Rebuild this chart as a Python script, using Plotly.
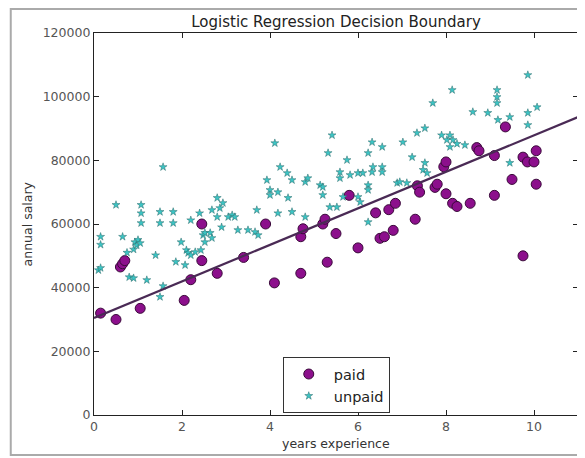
import plotly.graph_objects as go

# ---- data ----
paid_x = [0.15, 0.5, 0.6, 0.65, 0.7, 1.05, 2.05, 2.2, 2.45, 2.45, 2.8, 3.4, 3.9, 4.1,
          4.7, 4.7, 4.75, 5.2, 5.25, 5.3, 5.5, 5.8, 6.0, 6.4, 6.5, 6.6, 6.7, 6.8, 6.85,
          7.3, 7.35, 7.4, 7.75, 7.8, 7.95, 8.0, 8.0, 8.15, 8.25, 8.55, 8.7, 8.75, 9.1,
          9.1, 9.35, 9.5, 9.75, 9.75, 9.85, 10.0, 10.05, 10.05]
paid_y = [32000, 30000, 46500, 47500, 48500, 33500, 36000, 42500, 48500, 60000, 44500,
          49500, 60000, 41500, 44500, 56000, 58500, 60000, 61500, 48000, 57000, 69000,
          52500, 63500, 55500, 56000, 64500, 58000, 66500, 61500, 72000, 70000, 71500,
          72500, 78000, 79500, 69500, 66500, 65500, 66500, 84000, 83000, 81500, 69000,
          90500, 74000, 81000, 50000, 79500, 79500, 83000, 72500]

unpaid_x = [0.1, 0.15, 0.15, 0.15, 0.5, 0.65, 0.75, 0.8, 0.9, 0.9, 0.93, 0.97, 1.0, 1.05,
            1.07, 1.07, 1.07, 1.2, 1.4, 1.5, 1.5, 1.5, 1.57, 1.57, 1.8, 1.8, 1.86, 1.98,
            2.07, 2.1, 2.14, 2.2, 2.2, 2.3, 2.4, 2.43, 2.48, 2.52, 2.52,
            2.64, 2.68, 2.68, 2.8, 2.86, 2.93, 2.8, 2.9, 3.05, 3.14, 3.2, 3.27, 3.5, 3.66,
            3.73, 3.7, 3.93, 4.0, 4.0, 4.11, 4.18, 4.18, 4.23, 4.39, 4.41, 4.5, 4.5, 4.8,
            4.86, 4.8,
            5.14, 5.2, 5.2, 5.32, 5.36, 5.41, 5.52, 5.59, 5.59, 5.66, 5.75, 5.82, 6.0, 6.0,
            6.05, 6.11, 6.23, 6.23, 6.23, 6.23, 6.32, 6.32, 6.34, 6.55, 6.55, 6.55, 6.89,
            6.95, 7.02, 7.11, 7.23, 7.34, 7.48, 7.52, 7.52, 7.57, 7.7,
            7.9, 8.02, 8.09, 8.09, 8.16, 8.25, 8.43, 8.14, 8.61, 8.95, 9.16, 9.16, 9.16,
            9.18, 9.45, 9.45, 9.86, 9.86, 9.86, 10.07]
unpaid_y = [45500, 46200, 56000, 53500, 66000, 56000, 51000, 43300, 43000, 52000, 54300,
            53300, 55000, 54000, 66000, 63400, 60300, 42400, 50200, 63800, 60300, 37100,
            40500, 77900, 63800, 60300, 48100, 54300, 47100, 51800, 50900, 50200, 61200,
            51200, 63400, 51800, 56500, 54300, 57200,
            57200, 55600, 64400, 68200, 65000, 66600, 62200, 59000, 62200, 62800, 62200,
            58100, 58100, 57500, 56500, 64400, 73800, 70700, 69100, 85400, 70000, 63400,
            77900, 76000, 68200, 73800, 63800, 73200, 74400, 62200,
            72200, 71600, 69100, 82300, 65300, 87900, 65300, 76300, 74400, 68500, 80100,
            75400, 76000, 68500, 66900, 76000, 82300, 72200, 70700, 60600, 85700, 76300,
            77900, 84200, 77900, 76300, 72900, 73200, 85700, 72900, 81000, 88600, 77000,
            79200, 90100, 76000, 98000,
            87900, 86400, 87900, 84200, 86400, 85200, 84800, 102100, 95200, 94900, 102100,
            99900, 98000, 92700, 93600, 79200, 106800, 94900, 91100, 96700]

boundary_x = [0, 11]
boundary_y = [30500, 93600]

x_ticks = [0, 2, 4, 6, 8, 10]
y_ticks = [0, 20000, 40000, 60000, 80000, 100000, 120000]

FONT = "DejaVu Sans"

fig = go.Figure()
fig.add_trace(go.Scatter(
    x=paid_x, y=paid_y, mode="markers", name="paid",
    marker=dict(size=10, color="#8c0f8c", line=dict(color="#3a0a3a", width=1)),
))
fig.add_trace(go.Scatter(
    x=unpaid_x, y=unpaid_y, mode="markers", name="unpaid",
    marker=dict(symbol="star", size=6, color="#3cc4c4", line=dict(color="#2a6a6a", width=0.5)),
))
fig.add_trace(go.Scatter(
    x=boundary_x, y=boundary_y, mode="lines", showlegend=False,
    line=dict(color="#4a2a55", width=2.2),
))

axis_common = dict(
    showgrid=False, zeroline=False, showline=True, linecolor="#222", linewidth=1.2,
    mirror="allticks", ticks="inside", ticklen=5, tickcolor="#222",
    tickfont=dict(family=FONT, size=12.5, color="#555"),
)

fig.update_layout(
    width=577, height=450,
    margin=dict(l=86, r=7, t=25, b=43),
    paper_bgcolor="white", plot_bgcolor="white",
    font=dict(family=FONT, color="#333"),
    title=dict(text="Logistic Regression Decision Boundary", x=0.5, xref="paper",
               xanchor="center", y=1.0, yref="paper", yanchor="bottom", pad=dict(b=6),
               font=dict(family=FONT, size=15, color="#222")),
    xaxis=dict(range=[0, 11], tickvals=x_ticks, ticktext=[str(v) for v in x_ticks], **axis_common),
    yaxis=dict(range=[0, 120000], tickvals=y_ticks, ticktext=[str(v) for v in y_ticks], **axis_common),
    legend=dict(x=0.39, y=0.005, xanchor="left", yanchor="bottom",
                bgcolor="white", bordercolor="#333", borderwidth=1,
                font=dict(family=FONT, size=14.5, color="#222"),
                itemsizing="trace", itemwidth=40, tracegroupgap=0),
    showlegend=True,
    annotations=[
        dict(text="years experience", xref="paper", yref="paper", x=0.5, y=-0.05,
             xanchor="center", yanchor="top", showarrow=False,
             font=dict(family=FONT, size=12.5, color="#333")),
        dict(text="annual salary", xref="paper", yref="paper", x=-0.118, y=0.5,
             textangle=-90, xanchor="right", yanchor="middle", showarrow=False,
             font=dict(family=FONT, size=12.5, color="#333")),
    ],
    shapes=[
        dict(type="rect", xref="paper", yref="paper", x0=-0.172, x1=1.01, y0=-0.105, y1=1.063,
             line=dict(color="#aaa", width=2), fillcolor="rgba(0,0,0,0)", layer="below"),
    ],
)

fig.write_html("out.html")
